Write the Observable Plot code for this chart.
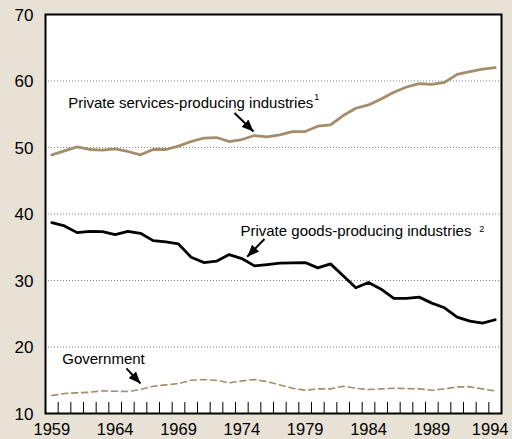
<!DOCTYPE html>
<html>
<head>
<meta charset="utf-8">
<script src="https://cdn.jsdelivr.net/npm/d3@7"></script>
<script src="https://cdn.jsdelivr.net/npm/@observablehq/plot@0.6"></script>
<style>
  html, body { margin: 0; padding: 0; background: #e8e1d5; }
  #chart svg { display: block; }
</style>
</head>
<body>
<div id="chart"></div>
<script>
const years = [1959,1960,1961,1962,1963,1964,1965,1966,1967,1968,1969,1970,1971,1972,1973,1974,1975,1976,1977,1978,1979,1980,1981,1982,1983,1984,1985,1986,1987,1988,1989,1990,1991,1992,1993,1994];
const services = [48.9,49.5,50.1,49.7,49.6,49.8,49.4,48.9,49.7,49.7,50.2,50.9,51.4,51.5,50.9,51.2,51.8,51.6,51.9,52.4,52.4,53.2,53.4,54.8,55.9,56.4,57.3,58.3,59.1,59.6,59.5,59.8,61.0,61.4,61.8,62.0];
const goods = [38.7,38.2,37.2,37.4,37.35,36.9,37.4,37.1,36.0,35.8,35.5,33.5,32.7,32.9,33.9,33.3,32.2,32.4,32.6,32.65,32.7,31.9,32.5,30.7,28.9,29.7,28.7,27.3,27.3,27.5,26.6,25.9,24.5,23.9,23.6,24.1];
const government = [12.7,13.0,13.1,13.2,13.4,13.35,13.3,13.6,14.1,14.3,14.5,15.0,15.1,15.0,14.6,14.9,15.1,14.8,14.3,13.8,13.5,13.7,13.7,14.1,13.8,13.6,13.7,13.8,13.75,13.7,13.5,13.7,14.0,14.0,13.7,13.4];

const yTicks = [10,20,30,40,50,60,70];
const gridValues = [20,30,40,50,60];
const xLabels = [1959,1964,1969,1974,1979,1984,1989];
const xLabelLast = [1994];
const xTickMarks = [1959.5,1960.5,1961.5,1962.5,1963.5,1964.5,1965.5,1966.5,1967.5,1968.5,1969.5,1970.5,1971.5,1972.5,1973.5,1974.5,1975.5,1976.5,1977.5,1978.5,1979.5,1980.5,1981.5,1982.5,1983.5,1984.5,1985.5,1986.5,1987.5,1988.5,1989.5,1990.5,1991.5,1992.5,1993.5];

const labelText = ["Private services-producing industries", "Private goods-producing industries", "Government"];
const labelX = [1960.29, 1973.89, 1959.82];
const labelY = [56.66, 37.41, 18.11];
const supText = ["1", "2"];
const supX = [1979.72, 1992.74];
const supY = [57.63, 37.72];
const arrowX1 = [1973.42, 1975.79, 1964.89];
const arrowY1 = [55.2, 36.23, 16.78];
const arrowX2 = [1974.92, 1974.42, 1966.0];
const arrowY2 = [52.4, 33.57, 14.52];

const tan = "#a38d6a";
const font = "'Liberation Sans', Arial, Helvetica, sans-serif";

const rows = (arr) => years.map((y, i) => ({year: y, value: arr[i]}));
const labels = labelText.map((t, i) => ({t, x: labelX[i], y: labelY[i]}));
const sups = supText.map((t, i) => ({t, x: supX[i], y: supY[i]}));
const arrows = arrowX1.map((x1, i) => ({x1, y1: arrowY1[i], x2: arrowX2[i], y2: arrowY2[i]}));

const chart = Plot.plot({
  width: 512,
  height: 439,
  marginLeft: 45,
  marginRight: 11,
  marginTop: 14,
  marginBottom: 26,
  style: {background: "#e8e1d5", fontFamily: font, color: "black"},
  x: {domain: [1958.5, 1994.5]},
  y: {domain: [10, 70]},
  marks: [
    Plot.frame({fill: "white", stroke: null}),
    Plot.ruleY(gridValues, {stroke: "#808080", strokeDasharray: "1,2", strokeWidth: 1}),
    Plot.ruleX(xTickMarks, {x: d => d, y1: 10, y2: 11.66, stroke: "black", strokeWidth: 1}),
    Plot.line(rows(government), {x: "year", y: "value", stroke: tan, strokeWidth: 1.6, strokeDasharray: "6,4"}),
    Plot.line(rows(services), {x: "year", y: "value", stroke: tan, strokeWidth: 2.8}),
    Plot.line(rows(goods), {x: "year", y: "value", stroke: "black", strokeWidth: 2.8}),
    Plot.link(arrows, {x1: "x1", y1: "y1", x2: "x2", y2: "y2", stroke: "black", strokeWidth: 2}),
    Plot.text(labels, {x: "x", y: "y", text: "t", textAnchor: "start", fontSize: 15, fill: "black"}),
    Plot.text(sups, {x: "x", y: "y", text: "t", textAnchor: "start", fontSize: 9, fill: "black"}),
    Plot.axisY(yTicks, {tickSize: 0, tickPadding: 12, fontSize: 17, label: null, dy: 1}),
    Plot.axisX(xLabels, {tickSize: 0, tickPadding: 10, fontSize: 16.5, label: null, tickFormat: d => String(d)}),
    Plot.axisX(xLabelLast, {tickSize: 0, tickPadding: 10, fontSize: 16.5, label: null, dx: -5, tickFormat: d => String(d)}),
    Plot.frame({stroke: "black", strokeWidth: 2})
  ]
});

// filled arrowheads for the annotation links
const svg = d3.select(chart);
const defs = svg.insert("defs", ":first-child");
defs.append("marker")
  .attr("id", "ahead")
  .attr("markerUnits", "userSpaceOnUse")
  .attr("viewBox", "0 0 12 10")
  .attr("refX", 12).attr("refY", 5)
  .attr("markerWidth", 12).attr("markerHeight", 10)
  .attr("orient", "auto")
  .append("path").attr("d", "M0,0L12,5L0,10Z").attr("fill", "black");
svg.selectAll("g[aria-label='link'] path").attr("marker-end", "url(#ahead)");

document.getElementById("chart").append(chart);
</script>
</body>
</html>
